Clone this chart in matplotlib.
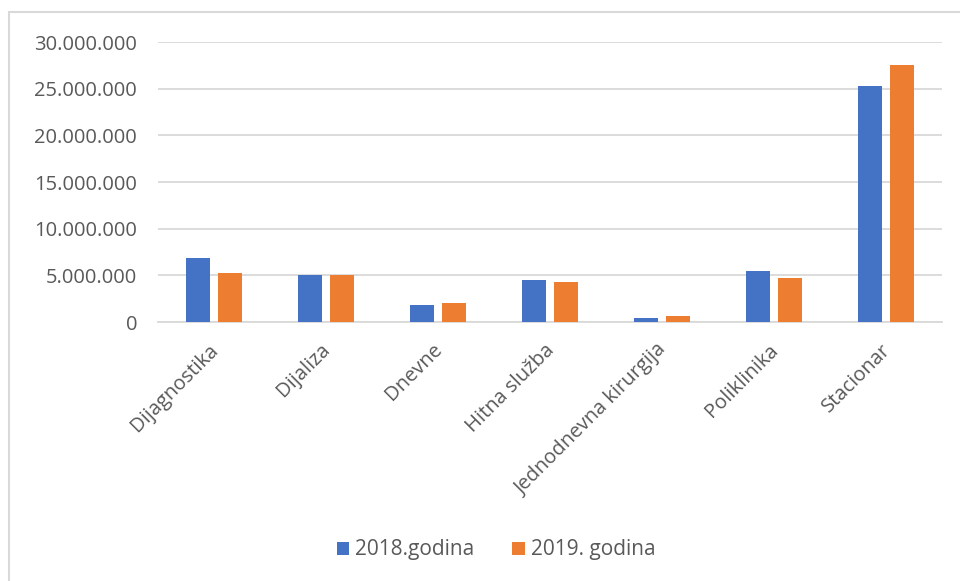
import numpy as np
import matplotlib.pyplot as plt
from matplotlib.patches import Rectangle
from matplotlib.ticker import FuncFormatter

# ── Data ───────────────────────────────────────────────────────────────────
categories = ['Dijagnostika', 'Dijaliza', 'Dnevne', 'Hitna služba',
              'Jednodnevna kirurgija', 'Poliklinika', 'Stacionar']
values_2018 = [6.9e6, 5.02e6, 1.85e6, 4.46e6, 0.46e6, 5.42e6, 25.33e6]
values_2019 = [5.27e6, 5.02e6, 1.99e6, 4.31e6, 0.60e6, 4.74e6, 27.5e6]
series_labels = ['2018.godina', '2019. godina']

# ── Style ──────────────────────────────────────────────────────────────────
blue = '#4472C4'
orange = '#ED7D31'
grid_col = '#D9D9D9'
text_col = '#595959'
plt.rcParams['font.family'] = ['Open Sans', 'DejaVu Sans']

fig = plt.figure(figsize=(9.6, 5.81), dpi=100)
ax = fig.add_axes([158 / 960, 1 - 322 / 581, 784 / 960, 280 / 581])

# chart frame (cropped on right and bottom as in the screenshot)
fig.patches.append(Rectangle((9 / 960, -0.05), 1.2, 1 - 12 / 581 + 0.05,
                             transform=fig.transFigure, fill=False,
                             edgecolor='#D9D9D9', linewidth=1.5))

x = np.arange(len(categories))
w = 0.21
off = 0.143
ax.bar(x - off, values_2018, w, color=blue, label=series_labels[0], zorder=3)
ax.bar(x + off, values_2019, w, color=orange, label=series_labels[1], zorder=3)

ax.set_xlim(-0.5, len(categories) - 0.5)
ax.set_ylim(0, 30e6)
ax.set_yticks(np.arange(0, 30e6 + 1, 5e6))
ax.yaxis.set_major_formatter(
    FuncFormatter(lambda v, p: f'{int(v):,}'.replace(',', '.')))
ax.grid(axis='y', color=grid_col, linewidth=1.3, zorder=0)
ax.set_axisbelow(True)

for s in ['top', 'right', 'left']:
    ax.spines[s].set_visible(False)
ax.spines['bottom'].set_color(grid_col)
ax.spines['bottom'].set_linewidth(1.3)

ax.tick_params(axis='both', length=0, colors=text_col, labelsize=14.5)
ax.tick_params(axis='y', pad=15)
ax.set_xticks(x - 0.05)
ax.set_xticklabels(categories, rotation=45, ha='right',
                   rotation_mode='anchor')
ax.tick_params(axis='x', pad=13)

leg = fig.legend(loc='center', bbox_to_anchor=(496 / 960, 1 - 550 / 581),
                 ncol=2, frameon=False, fontsize=15, handlelength=0.6,
                 handleheight=0.6, handletextpad=0.3, columnspacing=1.8)
for t in leg.get_texts():
    t.set_color(text_col)

fig.savefig('out.png', dpi=100)
